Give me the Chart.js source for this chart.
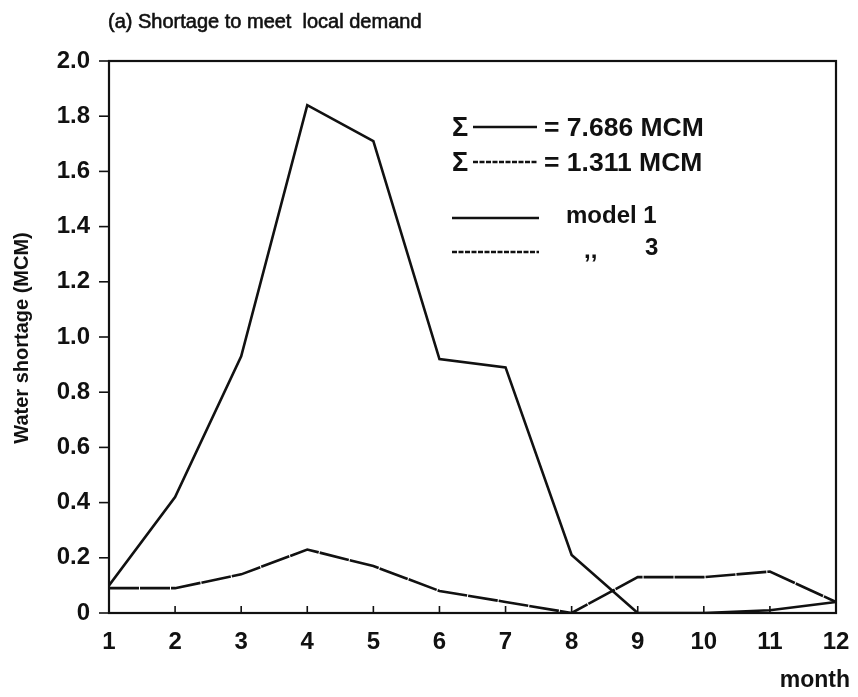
<!DOCTYPE html>
<html><head><meta charset="utf-8">
<script src="https://cdn.jsdelivr.net/npm/chart.js@4/dist/chart.umd.min.js"></script>
<style>html,body{margin:0;padding:0;background:#fff}#wrap{width:858px;height:697px}</style>
</head><body><div id="wrap"><canvas id="c" width="858" height="697"></canvas></div>
<script>
const months = [1,2,3,4,5,6,7,8,9,10,11,12];
const model1 = [0.10,0.42,0.93,1.84,1.71,0.92,0.89,0.21,0.00,0.00,0.01,0.04];
const model3 = [0.09,0.09,0.14,0.23,0.17,0.08,0.04,0.00,0.13,0.13,0.15,0.04];
const yTicks = [0,0.2,0.4,0.6,0.8,1.0,1.2,1.4,1.6,1.8,2.0];
const yTickLabels = ['0','0.2','0.4','0.6','0.8','1.0','1.2','1.4','1.6','1.8','2.0'];
const titleText = '(a) Shortage to meet  local demand';
const yTitle = 'Water shortage (MCM)';
const xTitle = 'month';
const sumLines = ['= 7.686 MCM','= 1.311 MCM'];
const legendLabels = ['model 1',',,','3'];

const F = '"Liberation Sans", Arial, sans-serif';
const ink = '#111';

const decor = {
  id:'decor',
  afterDraw(chart){
    const ctx = chart.ctx, a = chart.chartArea, xs = chart.scales.x, ys = chart.scales.y;
    ctx.save();
    ctx.strokeStyle = ink; ctx.lineWidth = 2.2;
    ctx.strokeRect(a.left, a.top, a.right-a.left, a.bottom-a.top);
    ctx.lineWidth = 1.6;
    months.forEach(m=>{const px = xs.getPixelForValue(m); ctx.beginPath(); ctx.moveTo(px,a.bottom); ctx.lineTo(px,a.bottom-7); ctx.stroke();});
    yTicks.forEach(v=>{const py = ys.getPixelForValue(v); ctx.beginPath(); ctx.moveTo(a.left,py); ctx.lineTo(a.left-10,py); ctx.stroke();});
    ctx.fillStyle = ink;
    ctx.font = '20px '+F; ctx.textBaseline='alphabetic'; ctx.textAlign='left';
    ctx.lineWidth = 0.6;
    ctx.fillText(titleText, 108, 28); ctx.strokeText(titleText, 108, 28);
    ctx.font = 'bold 23px '+F; ctx.textAlign='right';
    ctx.fillText(xTitle, 850, 687);
    ctx.save(); ctx.translate(28, 338); ctx.rotate(-Math.PI/2); ctx.textAlign='center';
    ctx.font = 'bold 20px '+F; ctx.fillText(yTitle, 0, 0); ctx.restore();
    // in-plot legend
    ctx.textBaseline = 'middle'; ctx.textAlign='left';
    ctx.font = 'bold 27px '+F;
    ctx.fillText('\u03A3', 452, 129); ctx.fillText('\u03A3', 452, 164);
    ctx.lineWidth = 2.4;
    ctx.beginPath(); ctx.moveTo(473,127); ctx.lineTo(537,127); ctx.stroke();
    ctx.setLineDash([5,1.5]);
    ctx.beginPath(); ctx.moveTo(473,162); ctx.lineTo(537,162); ctx.stroke();
    ctx.setLineDash([]);
    ctx.font = 'bold 26.5px '+F;
    ctx.fillText(sumLines[0], 544, 129); ctx.fillText(sumLines[1], 544, 164);
    ctx.beginPath(); ctx.moveTo(452,218); ctx.lineTo(539,218); ctx.stroke();
    ctx.setLineDash([5,1.5]);
    ctx.beginPath(); ctx.moveTo(452,252); ctx.lineTo(539,252); ctx.stroke();
    ctx.setLineDash([]);
    ctx.font = 'bold 24px '+F;
    ctx.fillText(legendLabels[0], 566, 216);
    ctx.fillText(legendLabels[1], 584, 251);
    ctx.fillText(legendLabels[2], 645, 248);
    ctx.restore();
  }
};

new Chart(document.getElementById('c'), {
  type:'line',
  data:{ datasets:[
    {label:'model 1', data: months.map((m,i)=>({x:m,y:model1[i]})), borderColor:ink, borderWidth:2.6, pointRadius:0, tension:0, fill:false},
    {label:'model 3', data: months.map((m,i)=>({x:m,y:model3[i]})), borderColor:ink, borderWidth:2.6, borderDash:[30,1], pointRadius:0, tension:0, fill:false}
  ]},
  options:{
    responsive:false, animation:false, devicePixelRatio:1,
    layout:{padding:{left:0,top:61,right:22,bottom:0}},
    plugins:{legend:{display:false}, tooltip:{enabled:false}, title:{display:false}},
    scales:{
      x:{type:'linear', min:1, max:12,
        afterBuildTicks(s){ s.ticks = months.map(v=>({value:v})); },
        afterFit(s){ s.height = 84; s.paddingLeft = 0; s.paddingRight = 0; },
        grid:{display:false, drawTicks:false}, border:{display:false},
        ticks:{padding:15, color:ink, font:{family:F, size:24, weight:'bold'}, maxRotation:0, autoSkip:false, callback:v=>String(v)}},
      y:{min:0, max:2,
        afterBuildTicks(s){ s.ticks = yTicks.map(v=>({value:v})); },
        afterFit(s){ s.width = 109; s.paddingTop = 0; s.paddingBottom = 0; },
        grid:{display:false, drawTicks:false}, border:{display:false},
        ticks:{padding:19, color:ink, font:{family:F, size:24, weight:'bold'}, autoSkip:false,
          callback:(v)=>{const i = yTicks.findIndex(t=>Math.abs(t-v)<1e-6); return i>=0? yTickLabels[i] : '';}}}
    }
  },
  plugins:[decor]
});
</script></body></html>
